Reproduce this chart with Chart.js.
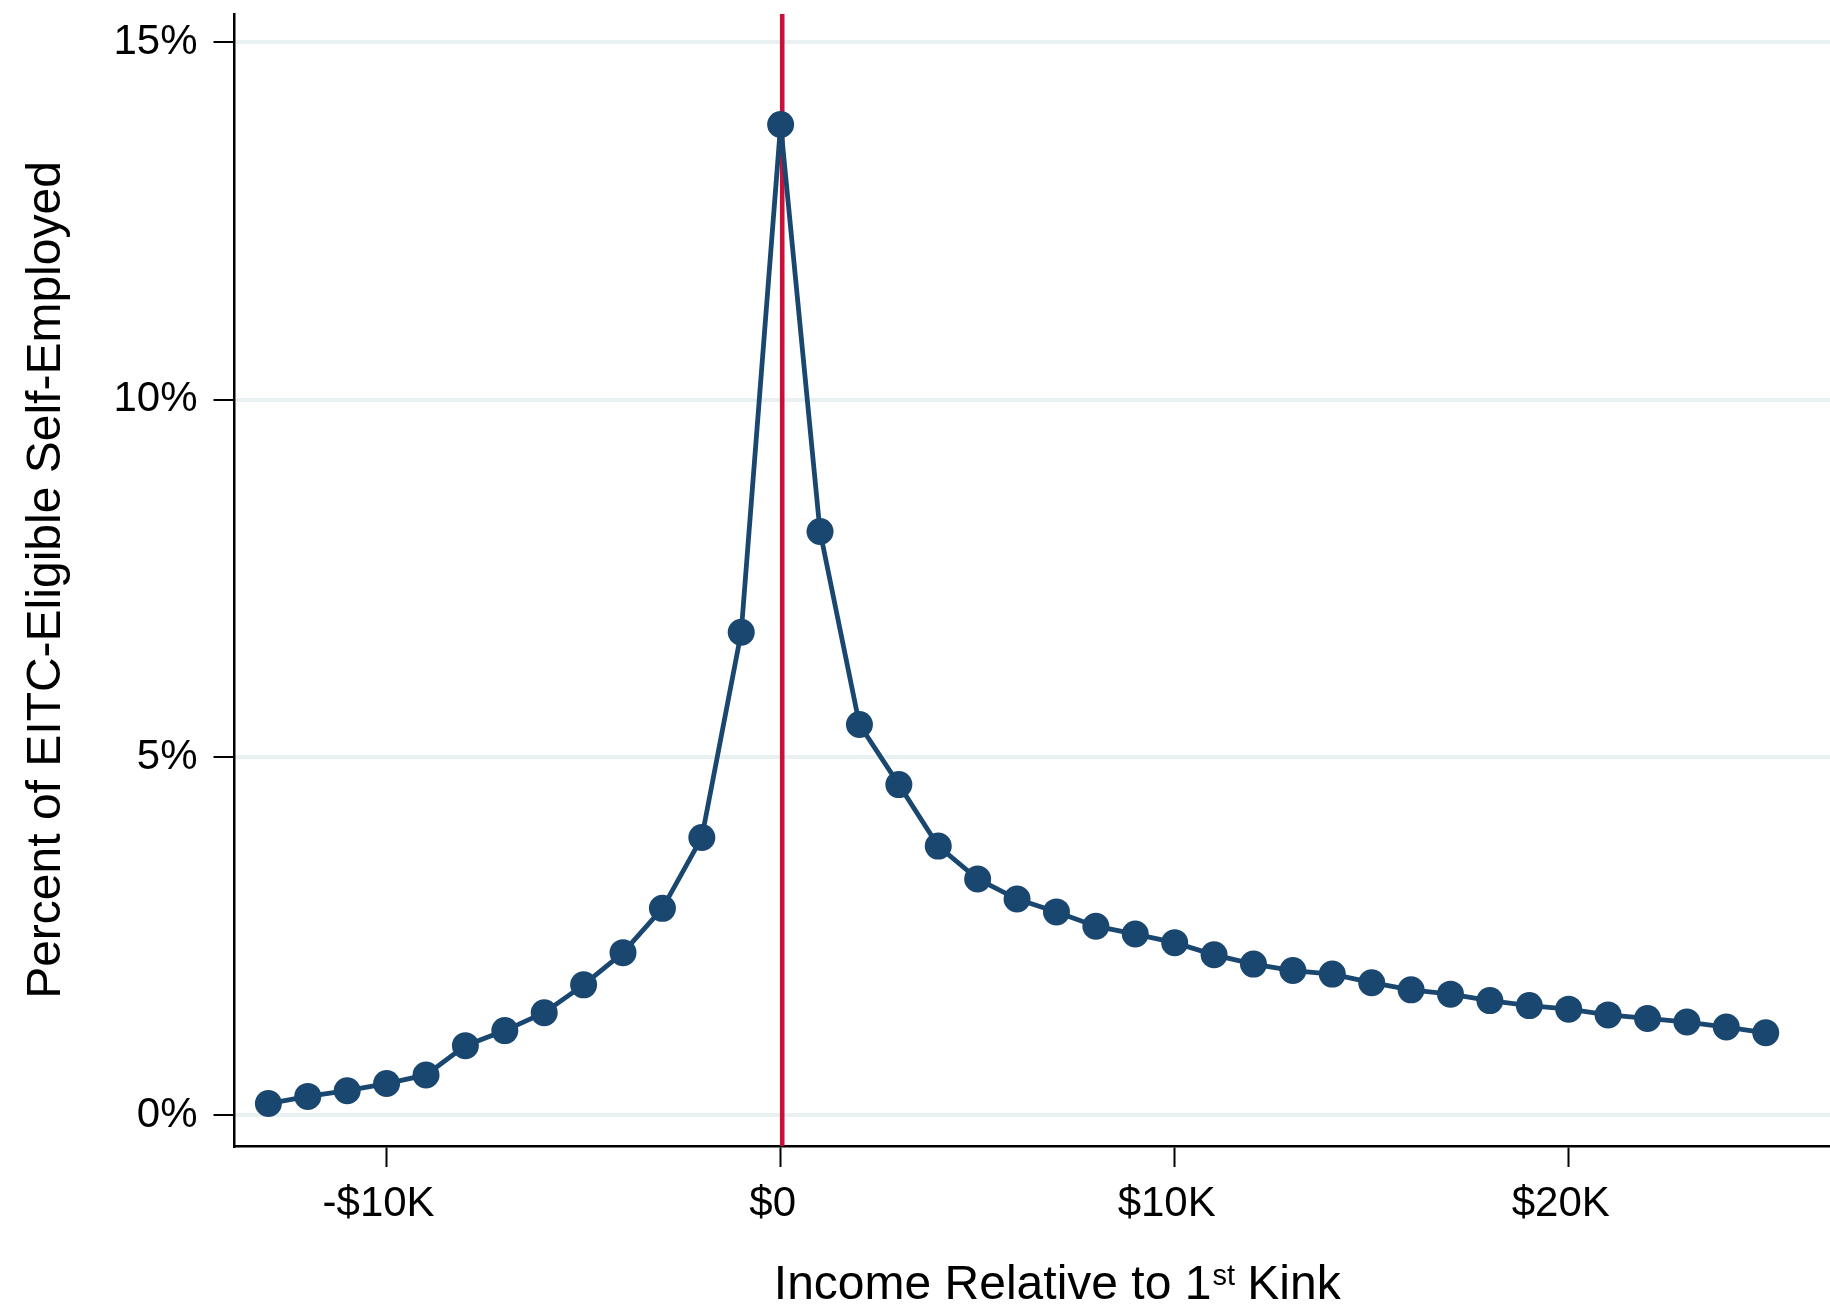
<!DOCTYPE html>
<html>
<head>
<meta charset="utf-8">
<script src="https://cdn.jsdelivr.net/npm/chart.js@4.4.1/dist/chart.umd.min.js"></script>
<style>
  html, body { margin: 0; padding: 0; background: #ffffff; overflow: hidden; }
  #wrap { width: 1880px; height: 1306px; }
</style>
</head>
<body>
<div id="wrap"><canvas id="chart" width="1880" height="1306"></canvas></div>
<script>
// Income relative to the first EITC kink, in thousands of dollars
const incomeK = [-13, -12, -11, -10, -9, -8, -7, -6, -5, -4, -3, -2, -1, 0,
                 1, 2, 3, 4, 5, 6, 7, 8, 9, 10, 11, 12, 13, 14, 15, 16, 17, 18,
                 19, 20, 21, 22, 23, 24, 25];
// Share of EITC-eligible self-employed filers in each income bin (%)
const pctSelfEmployed = [0.16, 0.26, 0.34, 0.44, 0.56, 0.97, 1.18, 1.43, 1.82, 2.27,
                         2.89, 3.88, 6.75, 13.85, 8.16, 5.46, 4.62, 3.76, 3.30, 3.02,
                         2.84, 2.64, 2.53, 2.41, 2.24, 2.11, 2.02, 1.97, 1.85, 1.75,
                         1.69, 1.60, 1.53, 1.48, 1.40, 1.35, 1.30, 1.23, 1.15];

const xTickValues = [-10, 0, 10, 20];
const xTickLabels = ['-$10K', '$0', '$10K', '$20K'];
const yTickValues = [0, 5, 10, 15];
const yTickLabels = ['0%', '5%', '10%', '15%'];

const kinkIncomeK = 0.04;
const xTitleParts = ['Income Relative to 1', 'st', ' Kink'];
const yTitle = 'Percent of EITC-Eligible Self-Employed';

const NAVY = '#1a476f';
const RED = '#c8103a';
const GRID = '#e8f0f2';
const FONT = "'Liberation Sans', Arial, Helvetica, sans-serif";

Chart.defaults.font.family = FONT;
Chart.defaults.color = '#000000';

// vertical marker at the first kink, under the series
const kinkLine = {
  id: 'kinkLine',
  beforeDatasetsDraw(chart) {
    const { ctx, chartArea, scales } = chart;
    const px = scales.x.getPixelForValue(kinkIncomeK);
    ctx.save();
    ctx.strokeStyle = RED;
    ctx.lineWidth = 4.6;
    ctx.beginPath();
    ctx.moveTo(px, chartArea.top);
    ctx.lineTo(px, chartArea.bottom);
    ctx.stroke();
    ctx.restore();
  }
};

// x axis title with the "st" ordinal set as a superscript
const xAxisTitle = {
  id: 'xAxisTitle',
  afterDraw(chart) {
    const { ctx } = chart;
    const sx = chart.scales.x;
    const cx = (sx.left + sx.right) / 2;
    const baseline = sx.bottom - 7;
    const mainFont = '48px ' + FONT;
    const supFont = '29px ' + FONT;
    ctx.save();
    ctx.fillStyle = '#000000';
    ctx.textBaseline = 'alphabetic';
    ctx.textAlign = 'left';
    ctx.font = mainFont;
    const w1 = ctx.measureText(xTitleParts[0]).width;
    const w3 = ctx.measureText(xTitleParts[2]).width;
    ctx.font = supFont;
    const w2 = ctx.measureText(xTitleParts[1]).width;
    let x0 = cx - (w1 + w2 + w3) / 2;
    ctx.font = mainFont;
    ctx.fillText(xTitleParts[0], x0, baseline);
    x0 += w1;
    ctx.font = supFont;
    ctx.fillText(xTitleParts[1], x0 + 1, baseline - 14);
    x0 += w2;
    ctx.font = mainFont;
    ctx.fillText(xTitleParts[2], x0, baseline);
    ctx.restore();
  }
};

new Chart(document.getElementById('chart'), {
  type: 'line',
  data: {
    datasets: [{
      data: incomeK.map((x, i) => ({ x: x, y: pctSelfEmployed[i] })),
      borderColor: NAVY,
      backgroundColor: NAVY,
      borderWidth: 4.8,
      tension: 0,
      pointRadius: 13.5,
      pointBorderWidth: 0,
      pointBackgroundColor: NAVY,
      clip: false
    }]
  },
  options: {
    responsive: false,
    animation: false,
    events: [],
    layout: { autoPadding: false, padding: { top: 14, left: 0, right: 0, bottom: 0 } },
    plugins: { legend: { display: false }, tooltip: { enabled: false } },
    scales: {
      x: {
        type: 'linear',
        min: -13.86,
        max: 27.9,
        afterBuildTicks: s => { s.ticks = xTickValues.map(v => ({ value: v })); },
        afterFit: s => { s.height = 160; s.paddingLeft = 0; s.paddingRight = 0; },
        ticks: {
          callback: (v, i) => xTickLabels[i],
          font: { size: 42 },
          color: '#000000',
          padding: 12,
          labelOffset: -8,
          maxRotation: 0,
          autoSkip: false
        },
        grid: {
          drawOnChartArea: false,
          drawTicks: true,
          tickLength: 21,
          tickWidth: 2,
          tickColor: '#000000'
        },
        border: { display: true, color: '#000000', width: 2.5 }
      },
      y: {
        type: 'linear',
        min: -0.4335,
        max: 15.396,
        afterBuildTicks: s => { s.ticks = yTickValues.map(v => ({ value: v })); },
        afterFit: s => { s.width = 234.5; s.paddingTop = 0; s.paddingBottom = 0; },
        ticks: {
          callback: (v, i) => yTickLabels[i],
          font: { size: 42 },
          color: '#000000',
          padding: 16
        },
        grid: {
          color: GRID,
          lineWidth: 4,
          drawTicks: true,
          tickLength: 21,
          tickWidth: 2,
          tickColor: '#000000'
        },
        border: { display: true, color: '#000000', width: 2.5 },
        title: {
          display: true,
          text: yTitle,
          font: { size: 48 },
          color: '#000000',
          padding: { top: 18, bottom: 0 }
        }
      }
    }
  },
  plugins: [kinkLine, xAxisTitle]
});
</script>
</body>
</html>
